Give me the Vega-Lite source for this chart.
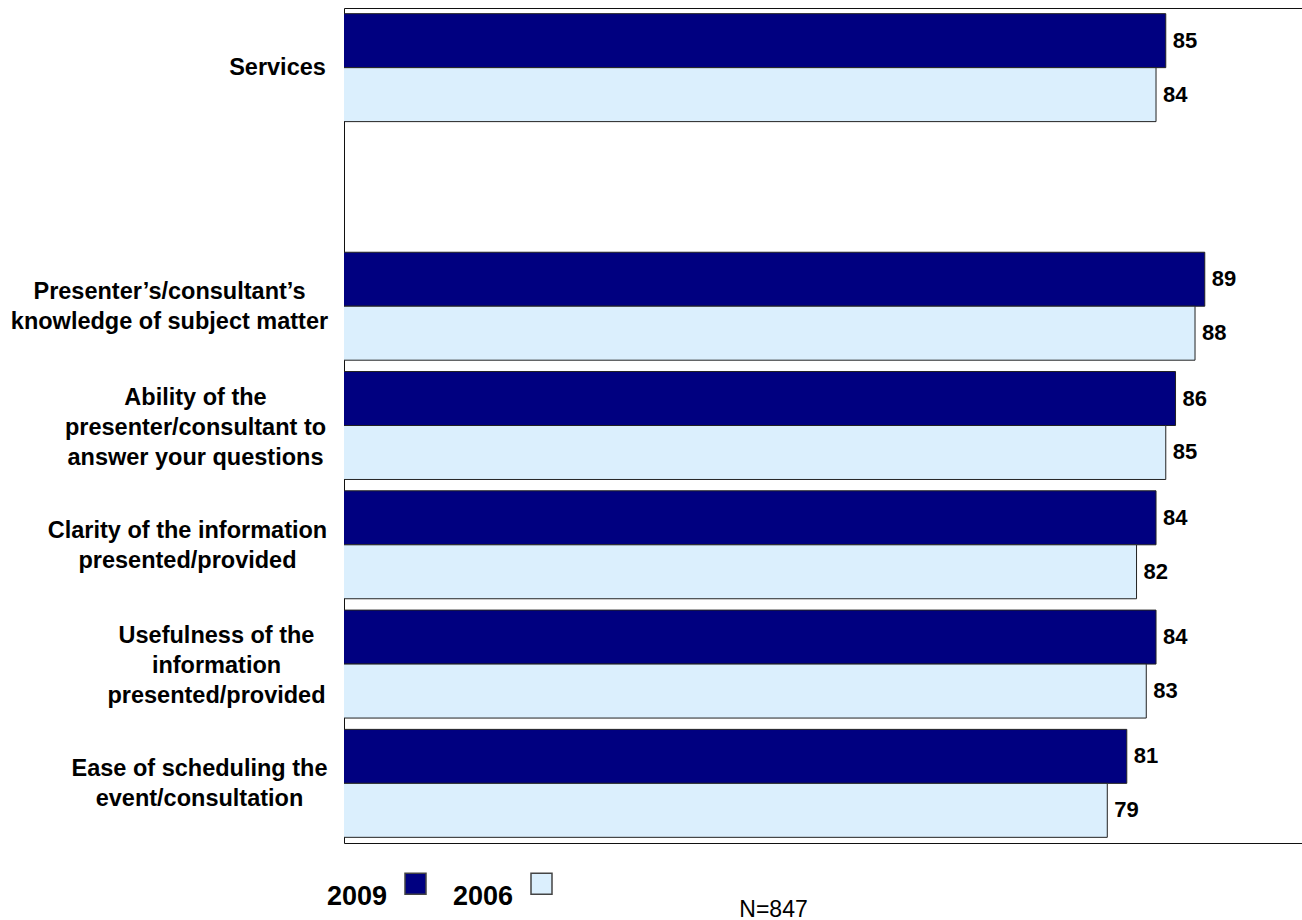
{
  "$schema": "https://vega.github.io/schema/vega-lite/v6.json",
  "autosize": {"type": "none"},
  "padding": {"left": 344, "top": 8, "right": 0, "bottom": 77},
  "width": 968,
  "height": 835,
  "background": "white",
  "config": {
    "view": {"stroke": "#111", "strokeWidth": 1},
    "font": "Liberation Sans"
  },
  "data": {
    "values": [
      {"category": "Services", "year": "2009", "value": 85},
      {"category": "Services", "year": "2006", "value": 84},
      {"category": "Presenter’s/consultant’s\nknowledge of subject matter", "year": "2009", "value": 89},
      {"category": "Presenter’s/consultant’s\nknowledge of subject matter", "year": "2006", "value": 88},
      {"category": "Ability of the\npresenter/consultant to\nanswer your questions", "year": "2009", "value": 86},
      {"category": "Ability of the\npresenter/consultant to\nanswer your questions", "year": "2006", "value": 85},
      {"category": "Clarity of the information\npresented/provided", "year": "2009", "value": 84},
      {"category": "Clarity of the information\npresented/provided", "year": "2006", "value": 82},
      {"category": "Usefulness of the\ninformation\npresented/provided", "year": "2009", "value": 84},
      {"category": "Usefulness of the\ninformation\npresented/provided", "year": "2006", "value": 83},
      {"category": "Ease of scheduling the\nevent/consultation", "year": "2009", "value": 81},
      {"category": "Ease of scheduling the\nevent/consultation", "year": "2006", "value": 79}
    ]
  },
  "encoding": {
    "y": {
      "field": "category",
      "type": "nominal",
      "scale": {
        "domain": [
          "Services",
          " ",
          "Presenter’s/consultant’s\nknowledge of subject matter",
          "Ability of the\npresenter/consultant to\nanswer your questions",
          "Clarity of the information\npresented/provided",
          "Usefulness of the\ninformation\npresented/provided",
          "Ease of scheduling the\nevent/consultation"
        ],
        "paddingInner": 0.095,
        "paddingOuter": 0.0475
      },
      "axis": {
        "title": null,
        "ticks": false,
        "domain": false,
        "labelExpr": "split(datum.label, '\\n')",
        "labelAlign": "center",
        "labelBaseline": "middle",
        "labelFont": "Liberation Sans",
        "labelFontSize": 23.5,
        "labelFontWeight": "bold",
        "labelColor": "#000",
        "labelLineHeight": 30,
        "labelLimit": 0,
        "labelOffset": {"expr": "-(length(split(datum.value, '\\n')) - 1) * 14"},
        "labelPadding": {"expr": "indexof(datum.value,'Services')==0 ? 67 : indexof(datum.value,'Presenter')==0 ? 175 : indexof(datum.value,'Ability')==0 ? 149 : indexof(datum.value,'Clarity')==0 ? 157 : indexof(datum.value,'Usefulness')==0 ? 128 : 145"}
      }
    },
    "yOffset": {
      "field": "year",
      "type": "nominal",
      "sort": ["2009", "2006"],
      "scale": {"paddingInner": 0, "paddingOuter": 0}
    },
    "x": {
      "field": "value",
      "type": "quantitative",
      "scale": {"domain": [0.7, 100], "zero": false, "nice": false},
      "axis": {
        "labels": false,
        "ticks": false,
        "domain": false,
        "grid": false,
        "title": "N=847",
        "titleX": 429,
        "titleY": 73,
        "titleAlign": "center",
        "titleBaseline": "alphabetic",
        "titleFont": "Liberation Sans",
        "titleFontSize": 23,
        "titleFontWeight": "normal",
        "titleColor": "#000"
      }
    }
  },
  "layer": [
    {
      "mark": {"type": "bar", "stroke": "#222", "strokeWidth": 1, "clip": true},
      "encoding": {
        "fill": {
          "field": "year",
          "type": "nominal",
          "scale": {"domain": ["2009", "2006"], "range": ["#000080", "#dbeffd"]},
          "legend": {
            "title": null,
            "orient": "none",
            "legendX": 58,
            "legendY": 862,
            "direction": "horizontal",
            "padding": 0,
            "labelAlign": "right",
            "labelBaseline": "top",
            "labelOffset": -42,
            "labelFont": "Liberation Sans",
            "labelFontSize": 27,
            "labelFontWeight": "bold",
            "labelColor": "#000",
            "symbolType": "square",
            "symbolSize": 441,
            "symbolStrokeColor": "#444",
            "symbolStrokeWidth": 1.5,
            "columnPadding": 23
          }
        }
      }
    },
    {
      "mark": {
        "type": "text",
        "align": "left",
        "baseline": "middle",
        "dx": 7,
        "font": "Liberation Sans",
        "fontSize": 22,
        "fontWeight": "bold",
        "color": "#000"
      },
      "encoding": {
        "text": {"field": "value", "type": "quantitative"}
      }
    }
  ]
}
